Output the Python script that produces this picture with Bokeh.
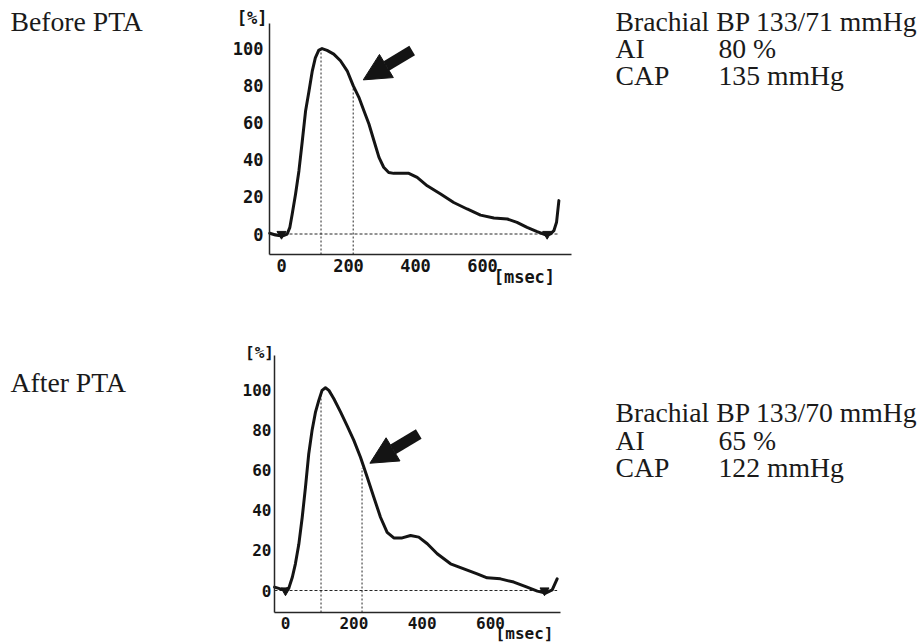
from bokeh.plotting import figure
from bokeh.layouts import row, column
from bokeh.models import Range1d, Arrow, NormalHead, FixedTicker
from bokeh.core.properties import value
from bokeh.embed import file_html
from bokeh.resources import INLINE

# ---------------- data ----------------
before_t = [-35, -18, 2, 17, 25, 32, 42, 52, 62, 72, 82, 92, 101, 111, 121, 136, 156, 176, 196,
            214, 231, 246, 261, 276, 291, 305, 320, 335, 355, 380, 405, 435, 475, 514, 554, 594,
            634, 674, 703, 733, 763, 788, 803, 813, 821, 828]
before_p = [0.4, -0.5, -1.1, 0, 3.6, 10.8, 21.6, 34, 50, 66.5, 77, 88, 95, 99, 100, 99, 97, 93.4, 88,
            80, 73.7, 66.5, 59.3, 50.3, 41.3, 36, 33.2, 32.7, 32.7, 32.7, 30.5, 26, 21.6, 17, 13.5, 10.2,
            8.6, 8.1, 6.3, 3.6, 1.3, -0.4, 0, 1.8, 6.3, 18]

after_t = [-32, -15, 0, 10, 20, 29, 39, 49, 58.5, 68, 78, 88, 97.5, 107, 117, 127, 141.5, 161, 180.5,
           200, 219.5, 239, 258.5, 278, 297.5, 317, 341.5, 366, 390, 415, 444, 483, 522, 561, 590,
           629, 668, 707, 737, 761, 780.5, 795]
after_p = [1.7, 0.8, 0.3, 1.3, 6.6, 13.3, 23, 36.5, 51.5, 68, 80, 89, 94.7, 99.7, 101, 99.7, 95.5, 89, 82,
           74.8, 66.4, 56.5, 46.5, 36.5, 29, 26.2, 26.2, 27.4, 26.6, 23.3, 18.3, 13.3, 10.8, 8.3, 6.3,
           5.8, 4.2, 1.7, -0.3, -1.3, 0.3, 5.8]

# peak (P1) and inflection (P2) times / heights
before_marks_t = [118, 214]
before_marks_p = [100, 80]
after_marks_t = [104, 224]
after_marks_p = [99, 61]

# foot-of-wave markers
before_feet_t = [0, 793]
after_feet_t = [0, 758]

# arrows pointing at the inflection point: (x_start, y_start, x_end, y_end)
before_arrow = (390, 98.9, 244, 83.1)
after_arrow = (390, 78, 247, 63.4)

x_ticks = [0, 200, 400, 600]
y_ticks = [0, 20, 40, 60, 80, 100]
x_unit = "[msec]"
y_unit = "[%]"

before_title = "Before PTA"
after_title = "After PTA"
info_names = ["AI", "CAP"]
before_bp = "Brachial BP 133/71 mmHg"
before_values = ["80 %", "135 mmHg"]
after_bp = "Brachial BP 133/70 mmHg"
after_values = ["65 %", "122 mmHg"]

SERIF = "Liberation Serif"
MONO = "DejaVu Sans Mono"
INK = "#141414"
SERIF_SIZE = "27.7px"


def make_chart(t, p, marks_t, marks_p, feet_t, arrow, width, height,
               xr, yr, x_axis_y, y_axis_x, x_axis_end, y_axis_top,
               xlab_pos, ylab_pos, tick_size, x_standoff, y_standoff):
    f = figure(width=width, height=height, x_range=Range1d(*xr), y_range=Range1d(*yr),
               toolbar_location=None, output_backend="svg", min_border=0)
    f.outline_line_color = None
    f.xgrid.visible = False
    f.ygrid.visible = False
    for ax in (f.xaxis[0], f.yaxis[0]):
        ax.major_tick_line_color = None
        ax.minor_tick_line_color = None
        ax.axis_line_color = "#262626"
        ax.axis_line_width = 1.5
        ax.major_label_text_font = MONO
        ax.major_label_text_font_size = tick_size
        ax.major_label_text_font_style = "bold"
        ax.major_label_text_color = INK
    f.xaxis.ticker = FixedTicker(ticks=x_ticks)
    f.yaxis.ticker = FixedTicker(ticks=y_ticks)
    f.xaxis.fixed_location = x_axis_y
    f.yaxis.fixed_location = y_axis_x
    f.xaxis.bounds = (y_axis_x, x_axis_end)
    f.yaxis.bounds = (x_axis_y, y_axis_top)
    f.yaxis.major_label_standoff = y_standoff
    f.xaxis.major_label_standoff = x_standoff

    # dashed reference lines
    f.segment(x0=marks_t, y0=[x_axis_y] * len(marks_t), x1=marks_t, y1=marks_p,
              line_color="#262626", line_width=1, line_dash="2 2")
    f.segment(x0=[y_axis_x], y0=[0], x1=[t[-1]], y1=[0],
              line_color="#262626", line_width=1, line_dash="3 2")
    # waveform
    f.line(t, p, line_color=INK, line_width=3, line_join="round", line_cap="round")
    # foot markers
    f.scatter(feet_t, [0] * len(feet_t), marker="inverted_triangle", size=9,
              fill_color=INK, line_color=INK)
    # arrow
    f.add_layout(Arrow(end=NormalHead(size=27, fill_color=INK, line_color=INK, line_width=1),
                       x_start=arrow[0], y_start=arrow[1], x_end=arrow[2], y_end=arrow[3],
                       line_width=11, line_color=INK))
    # unit labels
    f.text(x=[ylab_pos[0], xlab_pos[0]], y=[ylab_pos[1], xlab_pos[1]], text=[y_unit, x_unit],
           text_font=value(MONO), text_font_size=tick_size, text_font_style="bold",
           text_align="center", text_baseline="middle", text_color=INK)
    return f


def text_fig(width, height):
    f = figure(width=width, height=height, x_range=Range1d(0, width), y_range=Range1d(height, 0),
               toolbar_location=None, output_backend="svg", min_border=0)
    f.axis.visible = False
    f.xgrid.visible = False
    f.ygrid.visible = False
    f.outline_line_color = None
    return f


def left_fig(title, height, baseline):
    f = text_fig(208, height)
    f.text(x=[10], y=[baseline], text=[title], text_font=value(SERIF), text_font_size=SERIF_SIZE,
           text_baseline="alphabetic", text_color="#1a1a1a")
    return f


def right_fig(bp, values, height, baselines):
    f = text_fig(346, height)
    f.text(x=[40] * 3, y=baselines, text=[bp] + info_names, text_font=value(SERIF),
           text_font_size=SERIF_SIZE, text_baseline="alphabetic", text_color="#1a1a1a")
    f.text(x=[143] * 2, y=baselines[1:], text=values, text_font=value(SERIF),
           text_font_size=SERIF_SIZE, text_baseline="alphabetic", text_color="#1a1a1a")
    return f


# top row (page y 0..318), chart spans page x 208..575
c1 = make_chart(before_t, before_p, before_marks_t, before_marks_p, before_feet_t, before_arrow,
                width=367, height=318,
                xr=(-217.9, 877.6), yr=(-45.55, 125.9),
                x_axis_y=-11.05, y_axis_x=-35.8, x_axis_end=865.7, y_axis_top=113.5,
                xlab_pos=(725, -23.4), ylab_pos=(-88, 116.4), tick_size="17px",
                x_standoff=-2, y_standoff=0)
l1 = left_fig(before_title, 318, 21)
r1 = right_fig(before_bp, before_values, 318, [20.5, 47.5, 74.5])

# bottom row (page y 318..642)
c2 = make_chart(after_t, after_p, after_marks_t, after_marks_p, after_feet_t, after_arrow,
                width=367, height=324,
                xr=(-225.3, 848.7), yr=(-25.9, 135.5),
                x_axis_y=-10.96, y_axis_x=-32.2, x_axis_end=804.8, y_axis_top=117.1,
                xlab_pos=(699.5, -21.4), ylab_pos=(-76, 118.6), tick_size="16px",
                x_standoff=-2, y_standoff=-3)
l2 = left_fig(after_title, 324, 63.5)
r2 = right_fig(after_bp, after_values, 324, [93.5, 121.5, 148.5])

layout = column(row(l1, c1, r1, spacing=0), row(l2, c2, r2, spacing=0), spacing=0)

open("out.html", "w").write(file_html(layout, INLINE))
